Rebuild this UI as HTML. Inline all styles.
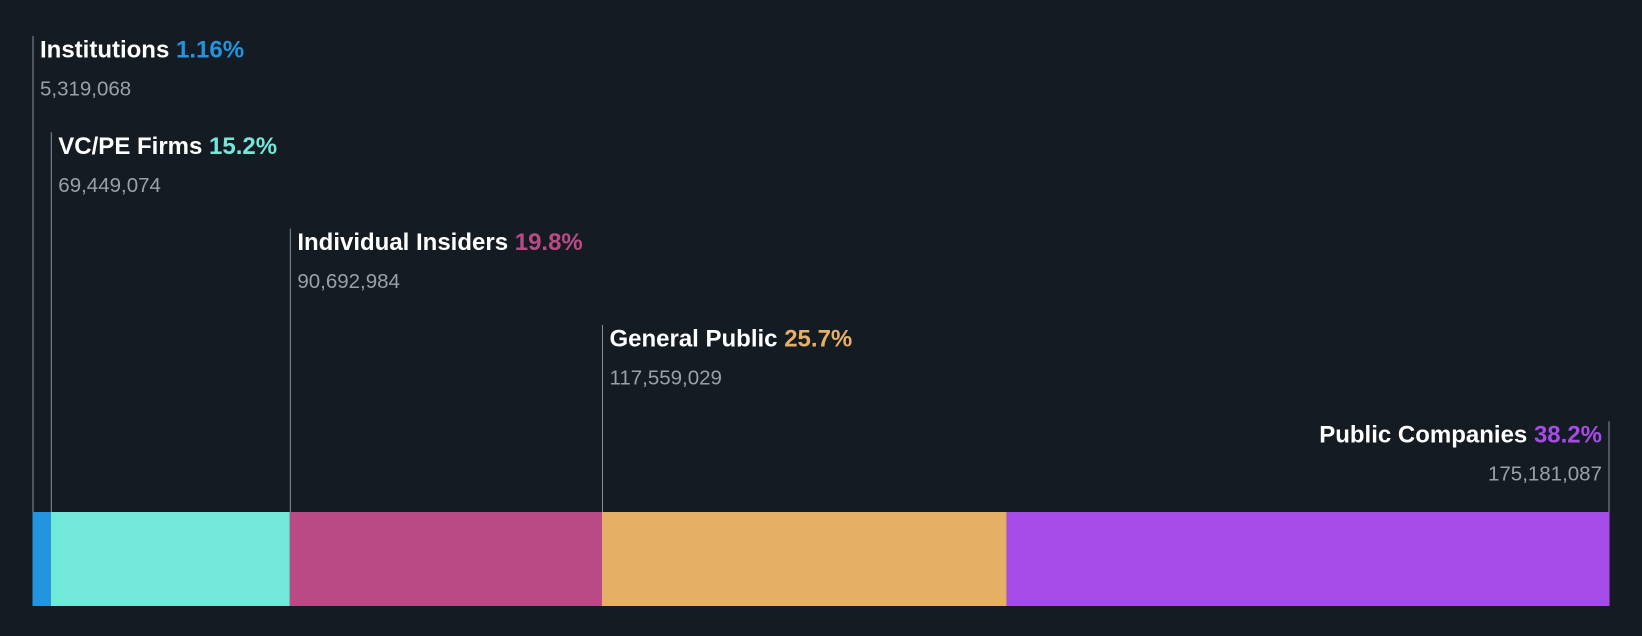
<!DOCTYPE html>
<html><head><meta charset="utf-8"><style>
html,body{margin:0;padding:0;background:#151b23;}
svg{display:block;}
text{font-family:"Liberation Sans",Arial,sans-serif;}
</style></head><body>
<svg id="chart" width="1642" height="636">
<rect width="1642" height="636" fill="#151b23"></rect>
<g id="bars"></g><g id="labels"></g>
</svg>
<script>
const categories = ["Institutions","VC/PE Firms","Individual Insiders","General Public","Public Companies"];
const shares = [5319068,69449074,90692984,117559029,175181087];
const percents = ["1.16%","15.2%","19.8%","25.7%","38.2%"];
const colors = ["#2394df","#71e8d8","#ba4a86","#e5b066","#a54ce8"];

const NS="http://www.w3.org/2000/svg";
const x0=32.5, x1=1609.5, barTop=512, barBot=606;
const total=shares.reduce((a,b)=>a+b,0);
const xs=v=>x0+(x1-x0)*v/total;
const bars=document.getElementById('bars'), labels=document.getElementById('labels');
let cum=0;
function mk(tag,attrs,parent){const e=document.createElementNS(NS,tag);for(const k in attrs)e.setAttribute(k,attrs[k]);parent.appendChild(e);return e;}
categories.forEach((c,i)=>{
  const a=xs(cum), b=xs(cum+shares[i]); cum+=shares[i];
  const r=mk('rect',{x:a,y:barTop,width:b-a,height:barBot-barTop,fill:colors[i]},bars);
  
  
  const last=i===categories.length-1;
  const lx=last?b-0.5:a+0.5;
  const cy=49+96.3*i;
  const ln=mk('line',{x1:lx,x2:lx,y1:cy-13,y2:barTop,stroke:'#8a9099','stroke-width':1},labels);
  
  
  const tx=last?lx-7:lx+7, anchor=last?'end':'start';
  const t=mk('text',{x:tx,y:cy+8.5,'font-size':24,'font-weight':'bold',fill:'#ffffff','text-anchor':anchor},labels);
  
  
  t.appendChild(document.createTextNode(c+' '));
  const sp=mk('tspan',{fill:colors[i]},t); sp.textContent=percents[i];
  const v=mk('text',{x:tx,y:cy+46.5,'font-size':20.5,fill:'#9ba0a8','text-anchor':anchor},labels);
  
  
  v.textContent=shares[i].toLocaleString('en-US');
});
</script>
</body></html>
